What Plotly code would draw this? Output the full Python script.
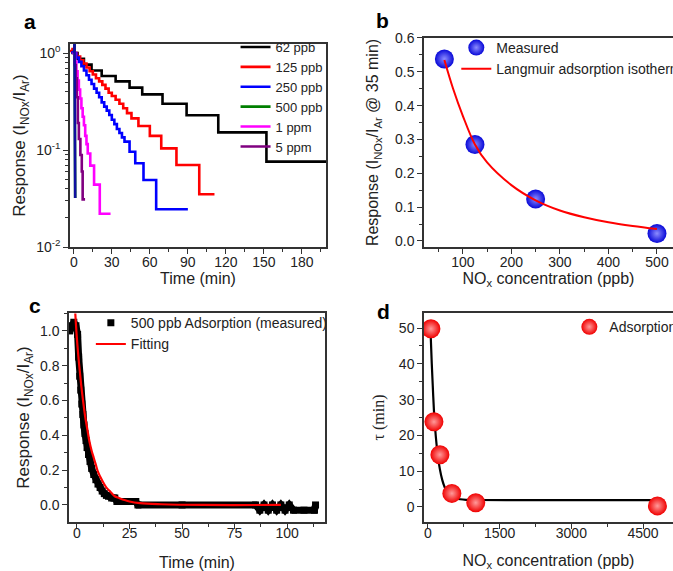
import plotly.graph_objects as go

# ---------------- Panel a data (step curves) ----------------
t62 = [-2, -1, 0, 3, 8, 14, 22, 33, 44, 54, 70, 89, 114, 152, 199]
v62 = [1.0, 1.05, 1.0, 0.87, 0.76, 0.66, 0.58, 0.51, 0.44, 0.375, 0.30, 0.228, 0.152, 0.076, 0.076]

t125 = [-3, -1, 0, 2.5, 5, 7.5, 10, 12.5, 15, 17.5, 20, 22.5, 25, 27.5, 30, 33, 36, 39, 42, 45.5, 51, 60, 69, 81, 99, 111]
v125 = [1.05, 1.1, 1.0, 0.92, 0.84, 0.78, 0.71, 0.65, 0.60, 0.55, 0.51, 0.47, 0.43, 0.39, 0.36, 0.33, 0.30, 0.27, 0.24, 0.212, 0.177, 0.14, 0.104, 0.070, 0.035, 0.035]

t250 = [-2, 0, 2, 4, 6, 8, 10, 12, 14, 16, 18, 20, 22, 24, 26, 28, 30, 32, 34, 36, 38, 40, 44, 48.5, 55, 65, 90]
v250 = [1.02, 1.0, 0.9, 0.81, 0.73, 0.66, 0.59, 0.53, 0.48, 0.43, 0.39, 0.35, 0.31, 0.28, 0.255, 0.23, 0.205, 0.185, 0.165, 0.15, 0.135, 0.122, 0.096, 0.073, 0.049, 0.0245, 0.0245]

t500 = [0.2, 0.6, 1.1]
v500 = [1.0, 1.3, 0.032]

t1ppm = [-1, 0, 1, 2, 3, 4, 5, 6, 7, 8, 9, 10, 11, 13, 16, 20.5, 29]
v1ppm = [1.0, 1.0, 0.81, 0.65, 0.52, 0.42, 0.34, 0.27, 0.22, 0.18, 0.14, 0.115, 0.092, 0.069, 0.044, 0.022, 0.022]

t5ppm = [0, 0.8, 1.6, 2.4, 3.2, 4.0, 5.2, 6.3, 7.0, 8.9]
v5ppm = [1.0, 0.75, 0.55, 0.35, 0.19, 0.13, 0.089, 0.06, 0.031, 0.031]

a_xticks = [0, 30, 60, 90, 120, 150, 180]

# ---------------- Panel b data ----------------
b_conc = [62, 125, 250, 500]
b_resp = [0.538, 0.285, 0.124, 0.022]
b_fit_conc = [62, 80, 100, 125, 150, 200, 250, 300, 350, 400, 450, 500]
b_fit_resp = [0.535, 0.45, 0.37, 0.285, 0.232, 0.165, 0.12, 0.09, 0.07, 0.055, 0.044, 0.035]

# ---------------- Panel c data ----------------
c_t = [-3.5, -2.5, -1.5, -0.5, 0.3, 0.8, 1.3, 1.8, 2.3, 2.8, 3.3, 3.8, 4.3, 4.8, 5.5, 6.2, 7, 8, 9, 10,
       11, 12, 13, 14, 15, 16.5, 18, 19, 22, 25, 28, 29, 50, 85, 87, 89, 91, 93, 95, 97, 99, 101, 103, 108, 113, 113.5]
c_v = [1.0, 1.03, 1.05, 1.03, 0.98, 0.85, 0.74, 0.66, 0.58, 0.52, 0.46, 0.41, 0.37, 0.33, 0.29, 0.25, 0.21, 0.175, 0.145, 0.12,
       0.1, 0.08, 0.065, 0.055, 0.05, 0.04, 0.04, 0.02, 0.02, 0.02, 0.02, 0.0, 0.0, 0.0, -0.03, 0.0, -0.03, 0.0, -0.03, 0.0, -0.03, 0.0, -0.03, -0.03, -0.03, 0.0]
c_fit_t = [-0.8, 0, 1, 2, 3, 4, 5, 6, 7, 8, 9, 10, 12, 14, 16, 18, 20, 25, 30, 40, 60, 97]
c_fit_v = [1.1, 0.95, 0.81, 0.69, 0.59, 0.50, 0.43, 0.36, 0.31, 0.27, 0.23, 0.19, 0.14, 0.10, 0.075, 0.05, 0.04, 0.02, 0.01, 0.004, 0.0, 0.0]

# ---------------- Panel d data ----------------
d_conc = [62, 125, 250, 500, 1000, 4800]
d_tau = [49.8, 23.8, 14.6, 3.8, 1.2, 0.3]
d_fit_conc = [56, 80, 100, 125, 150, 200, 250, 300, 350, 400, 500, 600, 800, 1000, 2000, 3000, 4800]
d_fit_tau = [48.5, 40, 34, 27, 22, 15, 10.5, 7.5, 5.5, 4.2, 2.8, 2.3, 2.0, 1.95, 1.9, 1.9, 1.9]

FONT = "Liberation Sans, Arial, sans-serif"
AX = "#333333"

fig = go.Figure()

lw = 2.6
fig.add_trace(go.Scatter(x=t62, y=v62, mode="lines", line=dict(color="black", width=lw, shape="hv"),
                         name="62 ppb", xaxis="x", yaxis="y", legend="legend"))
fig.add_trace(go.Scatter(x=t125, y=v125, mode="lines", line=dict(color="#ff0000", width=lw, shape="hv"),
                         name="125 ppb", xaxis="x", yaxis="y", legend="legend"))
fig.add_trace(go.Scatter(x=t250, y=v250, mode="lines", line=dict(color="#0000ff", width=lw, shape="hv"),
                         name="250 ppb", xaxis="x", yaxis="y", legend="legend"))
fig.add_trace(go.Scatter(x=t500, y=v500, mode="lines", line=dict(color="#007f00", width=lw),
                         name="500 ppb", xaxis="x", yaxis="y", legend="legend"))
fig.add_trace(go.Scatter(x=t1ppm, y=v1ppm, mode="lines", line=dict(color="#ff00ff", width=lw, shape="hv"),
                         name="1 ppm", xaxis="x", yaxis="y", legend="legend"))
fig.add_trace(go.Scatter(x=t5ppm, y=v5ppm, mode="lines", line=dict(color="#800080", width=lw, shape="hv"),
                         name="5 ppm", xaxis="x", yaxis="y", legend="legend"))
fig.add_trace(go.Scatter(x=t500, y=v500, mode="lines", line=dict(color="#1010a0", width=lw),
                         showlegend=False, xaxis="x", yaxis="y"))

# panel b
fig.add_trace(go.Scatter(x=b_conc, y=b_resp, mode="markers",
                         marker=dict(color="#0808d8", size=19, line=dict(width=0),
                                     gradient=dict(type="radial", color="#8c8cff")),
                         name="Measured", xaxis="x2", yaxis="y2", legend="legend2"))
fig.add_trace(go.Scatter(x=b_fit_conc, y=b_fit_resp, mode="lines", line=dict(color="#ff0000", width=2, shape="spline"),
                         name="Langmuir adsorption isotherm", xaxis="x2", yaxis="y2", legend="legend2"))

# panel c
fig.add_trace(go.Scatter(x=c_t, y=c_v, mode="lines", line=dict(color="black", width=7),
                         showlegend=False, xaxis="x3", yaxis="y3"))
fig.add_trace(go.Scatter(x=c_t, y=c_v, mode="markers", marker=dict(color="black", symbol="square", size=7),
                         name="500 ppb Adsorption (measured)", xaxis="x3", yaxis="y3", legend="legend3"))
fig.add_trace(go.Scatter(x=c_fit_t, y=c_fit_v, mode="lines", line=dict(color="#ff0000", width=2.2, shape="spline"),
                         name="Fitting", xaxis="x3", yaxis="y3", legend="legend3"))

# panel d
fig.add_trace(go.Scatter(x=d_fit_conc, y=d_fit_tau, mode="lines", line=dict(color="black", width=2.2, shape="spline"),
                         showlegend=False, xaxis="x4", yaxis="y4"))
fig.add_trace(go.Scatter(x=d_conc, y=d_tau, mode="markers",
                         marker=dict(color="#f00000", size=19, line=dict(width=0),
                                     gradient=dict(type="radial", color="#ff9a9a")),
                         name="Adsorption", xaxis="x4", yaxis="y4", legend="legend4"))

tickfont = dict(family=FONT, size=14, color="#222")
titlefont = dict(family=FONT, size=16, color="#222")


def axis(**kw):
    d = dict(showline=True, linecolor=AX, linewidth=1.5, ticks="outside", ticklen=5, tickwidth=1.2,
             tickcolor=AX, tickfont=tickfont, showgrid=False, zeroline=False, automargin=False,
             minor=dict(ticks="outside", ticklen=3, tickwidth=1, tickcolor=AX, showgrid=False))
    d.update(kw)
    return d


yA = [0.5674, 0.9229]
yB = [0.5674, 0.9335]
yC = [0.0858, 0.4518]


def letter(txt, px, py):
    return dict(text="<b>%s</b>" % txt, x=px / 673, y=1 - py / 571, xref="paper", yref="paper",
                xanchor="center", yanchor="middle", showarrow=False,
                font=dict(family=FONT, size=21, color="black"))


fig.update_layout(
    width=673, height=571, margin=dict(l=0, r=0, t=0, b=0, autoexpand=False),
    paper_bgcolor="white", plot_bgcolor="white", font=dict(family=FONT, color="#222"),
    xaxis=axis(domain=[0.104, 0.4844], range=[-3, 199], tickvals=a_xticks, mirror=True, ticklabelstandoff=-4,
               minor=dict(ticks="outside", ticklen=3, tickwidth=1, tickcolor=AX, dtick=15),
               title=dict(text="Time (min)", font=titlefont, standoff=0), anchor="y"),
    yaxis=axis(domain=yA, type="log", range=[-2, 0.093], mirror=True,
               tickvals=[0.01, 0.1, 1], ticktext=["10<sup>-2</sup>", "10<sup>-1</sup>", "10<sup>0</sup>"],
               minor=dict(ticks="outside", ticklen=3, tickwidth=1, tickcolor=AX,
                          tickvals=[0.02, 0.03, 0.04, 0.05, 0.06, 0.07, 0.08, 0.09,
                                    0.2, 0.3, 0.4, 0.5, 0.6, 0.7, 0.8, 0.9]),
               title=dict(text="Response (I<sub>NOx</sub>/I<sub>Ar</sub>)", font=dict(family=FONT, size=17, color="#222"),
                          standoff=6), anchor="x"),
    xaxis2=axis(domain=[0.630, 1.0], range=[20, 533], dtick=100, tick0=0, mirror=True, ticklabelstandoff=-4,
                minor=dict(ticks="outside", ticklen=3, tickwidth=1, tickcolor=AX, dtick=50),
                title=dict(text="NO<sub>x</sub> concentration (ppb)", font=titlefont, standoff=4), anchor="y2"),
    yaxis2=axis(domain=yB, range=[-0.018, 0.6], dtick=0.1, tickformat=".1f",
                minor=dict(ticks="outside", ticklen=3, tickwidth=1, tickcolor=AX, dtick=0.05),
                title=dict(text="Response (I<sub>NOx</sub>/I<sub>Ar</sub> @ 35 min)", font=titlefont, standoff=12),
                anchor="x2"),
    xaxis3=axis(domain=[0.1025, 0.4829], range=[-3.8, 118], dtick=25, mirror=True, ticklabelstandoff=-8,
                minor=dict(ticks="outside", ticklen=3, tickwidth=1, tickcolor=AX, dtick=12.5),
                title=dict(text="Time (min)", font=titlefont, standoff=18), anchor="y3"),
    yaxis3=axis(domain=yC, range=[-0.098, 1.103], dtick=0.2, tickformat=".1f", mirror=True,
                minor=dict(ticks="outside", ticklen=3, tickwidth=1, tickcolor=AX, dtick=0.1),
                title=dict(text="Response (I<sub>NOx</sub>/I<sub>Ar</sub>)", font=dict(family=FONT, size=17, color="#222"),
                           standoff=6), anchor="x3"),
    xaxis4=axis(domain=[0.630, 1.0], range=[-83, 5126], dtick=1500, mirror=True, ticklabelstandoff=-8,
                minor=dict(ticks="outside", ticklen=3, tickwidth=1, tickcolor=AX, dtick=750),
                title=dict(text="NO<sub>x</sub> concentration (ppb)", font=titlefont, standoff=20), anchor="y4"),
    yaxis4=axis(domain=yC, range=[-4.2, 54.2], dtick=10,
                minor=dict(ticks="outside", ticklen=3, tickwidth=1, tickcolor=AX, dtick=5),
                title=dict(text="τ (min)", font=dict(family="Liberation Serif, Times New Roman, serif", size=16, color="#222"),
                           standoff=10), anchor="x4"),
    legend=dict(x=0.35, y=0.944, xanchor="left", yanchor="top", bgcolor="rgba(0,0,0,0)",
                font=dict(family=FONT, size=13, color="#222"), tracegroupgap=0, itemwidth=30),
    legend2=dict(x=0.678, y=0.944, xanchor="left", yanchor="top", bgcolor="rgba(0,0,0,0)",
                 font=dict(family=FONT, size=14, color="#222"), itemwidth=30),
    legend3=dict(x=0.135, y=0.462, xanchor="left", yanchor="top", bgcolor="rgba(0,0,0,0)",
                 font=dict(family=FONT, size=14, color="#222"), itemwidth=30),
    legend4=dict(x=0.846, y=0.455, xanchor="left", yanchor="top", bgcolor="rgba(0,0,0,0)",
                 font=dict(family=FONT, size=14, color="#222"), itemwidth=30),
    annotations=[letter("a", 30, 21), letter("b", 382, 20), letter("c", 35, 305), letter("d", 383, 312)],
)

fig.write_html("out.html", post_script="document.body.style.margin='0';", config={"displayModeBar": False})
